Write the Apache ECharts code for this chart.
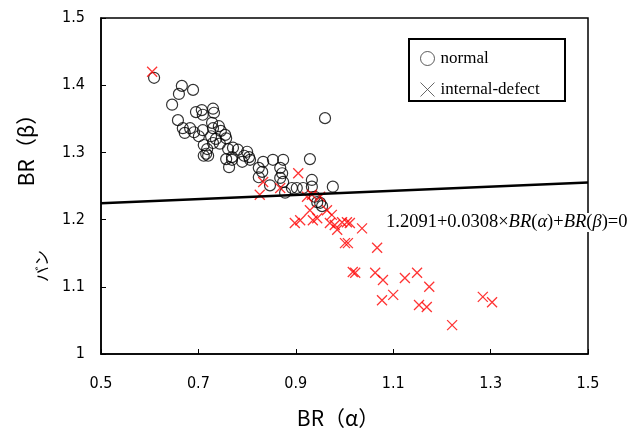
<!DOCTYPE html>
<html>
<head>
<meta charset="utf-8">
<script src="https://cdn.jsdelivr.net/npm/echarts@6/dist/echarts.min.js"></script>
<style>html,body{margin:0;padding:0;background:#fff}#c{width:637px;height:433px}</style>
</head>
<body>
<div id="c"></div>
<script>
var normalPoints = [
[0.609,1.411],[0.666,1.399],[0.660,1.387],[0.689,1.393],[0.646,1.371],[0.695,1.360],[0.707,1.363],[0.709,1.356],
[0.730,1.365],[0.732,1.359],[0.658,1.348],[0.668,1.336],[0.672,1.329],[0.683,1.336],[0.691,1.330],[0.701,1.324],
[0.709,1.333],[0.728,1.344],[0.730,1.336],[0.742,1.339],[0.746,1.332],[0.726,1.324],[0.736,1.320],[0.755,1.326],
[0.757,1.321],[0.711,1.311],[0.718,1.305],[0.716,1.298],[0.720,1.295],[0.711,1.295],[0.744,1.313],[0.761,1.305],
[0.771,1.307],[0.781,1.304],[0.757,1.290],[0.763,1.278],[0.769,1.293],[0.800,1.301],[0.804,1.293],[0.794,1.295],
[0.790,1.286],[0.806,1.289],[0.824,1.277],[0.833,1.286],[0.831,1.271],[0.824,1.263],[0.853,1.289],[0.874,1.289],
[0.868,1.277],[0.872,1.269],[0.868,1.262],[0.874,1.256],[0.929,1.290],[0.933,1.259],[0.976,1.249],[0.892,1.247],
[0.902,1.247],[0.915,1.247],[0.933,1.249],[0.878,1.240],[0.939,1.234],[0.944,1.226],[0.950,1.225],[0.960,1.351],
[0.847,1.251],[0.730,1.314],[0.769,1.289],[0.954,1.220]
];
var defectPoints = [
[0.605,1.420],[0.833,1.256],[0.826,1.237],[0.868,1.247],[0.905,1.269],[0.923,1.234],[0.933,1.237],[0.950,1.234],
[0.964,1.214],[0.974,1.207],[0.929,1.214],[0.909,1.199],[0.898,1.195],[0.935,1.199],[0.944,1.202],[0.970,1.195],
[0.980,1.192],[0.995,1.196],[1.005,1.196],[1.011,1.195],[1.036,1.187],[0.985,1.185],[1.001,1.165],[1.007,1.165],
[1.067,1.158],[1.022,1.121],[1.017,1.122],[1.063,1.121],[1.079,1.110],[1.124,1.113],[1.149,1.121],[1.174,1.100],
[1.077,1.080],[1.100,1.088],[1.153,1.073],[1.169,1.070],[1.221,1.043],[1.284,1.085],[1.303,1.077]
];
var lineIntercept = 1.2091;
var lineSlope = 0.0308;
var lineXs = [0.5, 1.5];
var xTicks = [0.5, 0.7, 0.9, 1.1, 1.3, 1.5];
var yTicks = [1, 1.1, 1.2, 1.3, 1.4, 1.5];

var lineData = lineXs.map(function(x){ return [x, lineIntercept + lineSlope * x]; });
var xPath = 'path://M0,0L10,10M10,0L0,10';
var tickFont = "'Liberation Sans Narrow','DejaVu Sans Condensed','Noto Sans',sans-serif";
var serif = "'Liberation Serif','DejaVu Serif',serif";

var chart = echarts.init(document.getElementById('c'), null, {renderer:'canvas'});
chart.setOption({
  animation: false,
  backgroundColor: '#fff',
  grid: {left:101, top:18, right:49, bottom:79, show:true, borderColor:'#000', borderWidth:1.5, backgroundColor:'transparent'},
  xAxis: {
    type:'value', min:0.5, max:1.5, interval:0.2,
    axisLine:{show:true, onZero:false, lineStyle:{color:'#000', width:1.5}},
    axisTick:{show:true, inside:true, length:5, lineStyle:{color:'#000'}},
    axisLabel:{color:'#000', fontSize:16, fontFamily:tickFont, margin:22,
      formatter:function(v){ return xTicks.indexOf(Math.round(v*10)/10) >= 0 ? String(Math.round(v*10)/10) : ''; }},
    splitLine:{show:false}
  },
  yAxis: {
    type:'value', min:1, max:1.5, interval:0.1,
    axisLine:{show:true, onZero:false, lineStyle:{color:'#000', width:1.5}},
    axisTick:{show:true, inside:true, length:5, lineStyle:{color:'#000'}},
    axisLabel:{color:'#000', fontSize:16, fontFamily:tickFont, margin:16,
      formatter:function(v){ return yTicks.indexOf(Math.round(v*10)/10) >= 0 ? String(Math.round(v*10)/10) : ''; }},
    splitLine:{show:false}
  },
  legend: {
    orient:'vertical', left:415, top:45, itemWidth:14, itemHeight:14, itemGap:14,
    textStyle:{fontFamily:serif, fontSize:17, color:'#000', padding:[0,0,0,1]},
    data:[
      {name:'normal', icon:'circle', itemStyle:{color:'transparent', borderColor:'#333', borderWidth:1}},
      {name:'internal-defect', icon:xPath, itemStyle:{color:'transparent', borderColor:'#444', borderWidth:1}}
    ]
  },
  series: [
    {name:'normal', type:'scatter', data:normalPoints, symbol:'circle', symbolSize:11, z:2,
     itemStyle:{color:'transparent', borderColor:'#000', borderWidth:1.2}},
    {name:'internal-defect', type:'scatter', data:defectPoints, symbol:xPath, symbolSize:10, z:3,
     itemStyle:{color:'transparent', borderColor:'#ff0000', borderWidth:1.3}},
    {name:'fit', type:'line', data:lineData, symbol:'none', z:4, silent:true,
     lineStyle:{color:'#000', width:2.5}}
  ],
  graphic: [
    {type:'rect', left:408, top:38, shape:{width:156, height:62}, style:{fill:'transparent', stroke:'#000', lineWidth:2}, z:10},
    {type:'text', left:386, top:213, z:10, style:{
      text:'{n|1.2091+0.0308×}{i|BR}{n|(}{i|α}{n|)+}{i|BR}{n|(}{i|β}{n|)=0}',
      backgroundColor:'#fff',
      rich:{
        n:{fontFamily:serif, fontSize:18.5, fill:'#000'},
        i:{fontFamily:serif, fontSize:18.5, fontStyle:'italic', fill:'#000'}
      }}},
    {type:'text', x:338, y:418, z:10, style:{text:'BR（α）', font:"21px 'Noto Sans CJK JP',sans-serif", fill:'#000', textAlign:'center', textVerticalAlign:'middle'}},
    {type:'text', x:26, y:145, rotation:Math.PI/2, z:10, style:{text:'BR（β）', font:"21px 'Noto Sans CJK JP',sans-serif", fill:'#000', textAlign:'center', textVerticalAlign:'middle'}},
    {type:'text', x:42, y:266, rotation:Math.PI/2, z:10, style:{text:'バン', font:"16px 'Noto Sans CJK JP',sans-serif", fill:'#000', textAlign:'center', textVerticalAlign:'middle'}}
  ]
});
</script>
</body>
</html>
